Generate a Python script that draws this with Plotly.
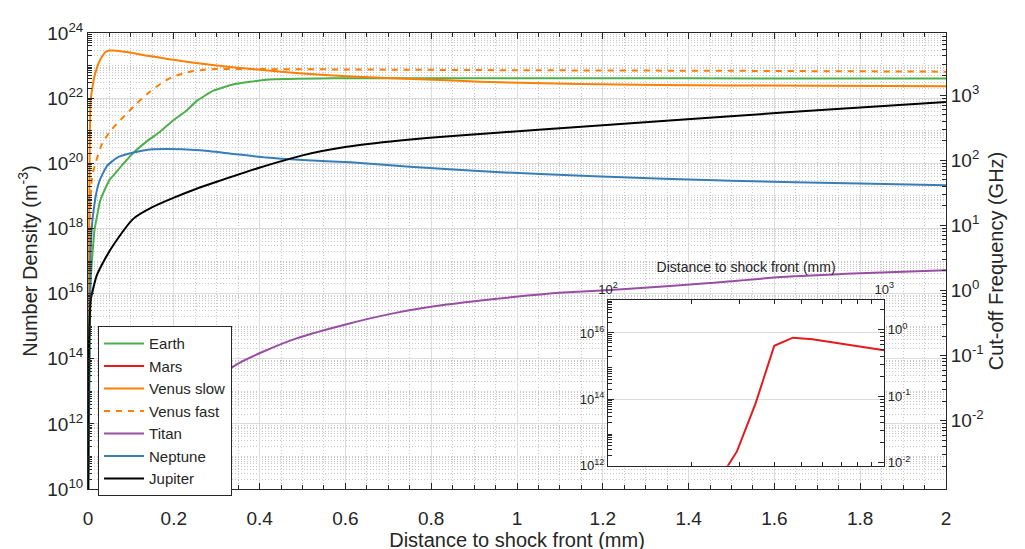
import math
import plotly.graph_objects as go

# ---------------- data (distance in mm, number density in m^-3) ----------------
earth_x = [0, 0.004, 0.006, 0.010, 0.015, 0.022, 0.028, 0.037, 0.051, 0.061, 0.080, 0.106,
           0.137, 0.168, 0.199, 0.230, 0.253, 0.292, 0.342, 0.416, 0.571, 0.8, 1.2, 1.6, 2.0]
earth_n = [1e9, 1e14, 2e16, 1.4e17, 8.7e17, 2.75e18, 6.8e18, 1.35e19, 3.2e19, 4.5e19, 8.9e19, 2.1e20,
           4.7e20, 9.3e20, 2.1e21, 4.2e21, 8.1e21, 1.7e22, 2.7e22, 3.7e22, 4.1e22, 4.1e22, 4.1e22, 4.0e22, 4.0e22]

venus_slow_x = [0, 0.002, 0.004, 0.006, 0.010, 0.014, 0.020, 0.026, 0.034, 0.041, 0.050, 0.060,
                0.090, 0.140, 0.199, 0.300, 0.401, 0.500, 0.603, 0.758, 0.914, 1.147, 1.5, 2.0]
venus_slow_n = [1e9, 1e16, 3.2e20, 8.1e21, 2.0e22, 4.1e22, 7.9e22, 1.29e23, 2.0e23, 2.6e23, 2.9e23, 2.9e23,
                2.6e23, 2.0e23, 1.5e23, 1.0e23, 7.4e22, 5.75e22, 4.7e22, 3.9e22, 3.2e22, 2.7e22, 2.45e22, 2.3e22]

venus_fast_x = [0, 0.002, 0.004, 0.006, 0.010, 0.018, 0.033, 0.051, 0.070, 0.090, 0.115, 0.145,
                0.170, 0.199, 0.225, 0.245, 0.270, 0.300, 0.400, 0.600, 1.0, 1.5, 2.0]
venus_fast_n = [1e12, 1e16, 2.0e18, 8.7e18, 4.3e19, 1.07e20, 4.0e20, 9.3e20, 1.8e21, 3.3e21, 7.1e21, 1.6e22,
                2.8e22, 4.6e22, 5.9e22, 6.8e22, 7.4e22, 7.8e22, 7.8e22, 7.6e22, 7.2e22, 6.9e22, 6.5e22]

titan_x = [0.070, 0.086, 0.102, 0.13, 0.17, 0.22, 0.28, 0.350, 0.409, 0.486, 0.603, 0.720,
           0.836, 0.991, 1.108, 1.263, 1.45, 1.615, 1.8, 2.0]
titan_n = [3.2e9, 1e10, 3.2e10, 1.6e11, 7.9e11, 4.0e12, 1.8e13, 7.1e13, 1.66e14, 4.2e14, 1.15e15, 2.6e15,
           4.6e15, 7.8e15, 1.07e16, 1.4e16, 2.1e16, 3.2e16, 4.2e16, 5.2e16]

neptune_x = [0, 0.003, 0.006, 0.010, 0.014, 0.020, 0.026, 0.035, 0.045, 0.068, 0.090, 0.120, 0.150,
             0.183, 0.220, 0.261, 0.330, 0.416, 0.500, 0.611, 0.750, 0.950, 1.18, 1.5, 1.8, 2.0]
neptune_n = [1e9, 1e14, 1.8e17, 1.6e18, 4.4e18, 1.35e19, 2.7e19, 5.0e19, 8.5e19, 1.5e20, 1.9e20, 2.35e20, 2.7e20,
             2.75e20, 2.7e20, 2.5e20, 2.0e20, 1.5e20, 1.26e20, 1.07e20, 7.8e19, 5.4e19, 4.0e19, 2.9e19, 2.4e19, 2.1e19]

jupiter_x = [0, 0.001, 0.002, 0.006, 0.014, 0.020, 0.037, 0.060, 0.106, 0.150, 0.199, 0.250, 0.300,
             0.401, 0.500, 0.603, 0.727, 0.85, 1.05, 1.364, 1.62, 1.8, 2.0]
jupiter_n = [1e9, 3.2e12, 1.9e14, 5.8e15, 1.8e16, 3.5e16, 1.0e17, 3.2e17, 2.0e18, 4.5e18, 8.7e18, 1.6e19, 2.7e19,
             7.4e19, 1.75e20, 3.2e20, 5.0e20, 6.9e20, 1.07e21, 2.1e21, 3.6e21, 5.2e21, 7.6e21]

# Mars is only visible in the inset (distance 100 - 1000 mm)
mars_x = [255, 272, 293, 341, 400, 467, 549, 1000]
mars_n = [4.3e11, 1.0e12, 2.7e12, 6.9e13, 4.1e15, 7.2e15, 6.5e15, 3.0e15]

# tick values
density_exps = [10, 12, 14, 16, 18, 20, 22, 24]
freq_exps = [-2, -1, 0, 1, 2, 3]
inset_x_exps = [2, 3]
inset_density_exps = [12, 14, 16]
inset_freq_exps = [-2, -1, 0]

colors = {
    "Earth": "#4daf4a", "Mars": "#e41a1c", "Venus": "#ff7f00",
    "Titan": "#984ea3", "Neptune": "#377eb8", "Jupiter": "#000000",
}


# plasma frequency (GHz) corresponding to density n: f = 8.98 * sqrt(n) Hz
def plasma_ghz_log(log_n):
    return math.log10(8.98e-9) + 0.5 * log_n


main_y_range = [10, 24]
inset_y_range = [12, 17]

TXT = "#262626"
FONT = 'Arial, "Liberation Sans", Helvetica, sans-serif'


def sup(e):
    return "10<sup>%d</sup>" % e


def log_minor(lo, hi, skip_even_decades=False):
    vals = []
    for k in range(lo - 1, hi + 1):
        for m in range(1, 10):
            if m == 1 and (not skip_even_decades or k % 2 == 0):
                continue
            vals.append(m * 10.0 ** k)
    return vals


fig = go.Figure()

line_w = 2
smooth = dict(shape="spline", smoothing=0.6)
fig.add_trace(go.Scatter(x=earth_x, y=earth_n, name="Earth", mode="lines",
                         line=dict(color=colors["Earth"], width=line_w, shape="spline", smoothing=0.4)))
fig.add_trace(go.Scatter(x=mars_x, y=mars_n, name="Mars", mode="lines", xaxis="x2", yaxis="y3",
                         line=dict(color=colors["Mars"], width=line_w)))
fig.add_trace(go.Scatter(x=venus_slow_x, y=venus_slow_n, name="Venus slow", mode="lines",
                         line=dict(color=colors["Venus"], width=line_w, **smooth)))
fig.add_trace(go.Scatter(x=venus_fast_x, y=venus_fast_n, name="Venus fast", mode="lines",
                         line=dict(color=colors["Venus"], width=line_w, dash="6px,6px", **smooth)))
fig.add_trace(go.Scatter(x=titan_x, y=titan_n, name="Titan", mode="lines",
                         line=dict(color=colors["Titan"], width=line_w, **smooth)))
fig.add_trace(go.Scatter(x=neptune_x, y=neptune_n, name="Neptune", mode="lines",
                         line=dict(color=colors["Neptune"], width=line_w, **smooth)))
fig.add_trace(go.Scatter(x=jupiter_x, y=jupiter_n, name="Jupiter", mode="lines",
                         line=dict(color=colors["Jupiter"], width=line_w, **smooth)))
# invisible traces so that the secondary (frequency) axes exist
fig.add_trace(go.Scatter(x=[None], y=[None], yaxis="y2", showlegend=False, hoverinfo="skip"))
fig.add_trace(go.Scatter(x=[None], y=[None], xaxis="x2", yaxis="y4", showlegend=False, hoverinfo="skip"))

eps = 1e-4
major_grid = "#dcdcdc"
minor_grid = "#c8c8c8"
minor_dash = "1px,2px"

common_tick = dict(ticks="inside", tickcolor=TXT, showline=True, linecolor=TXT, linewidth=1,
                   zeroline=False)

# the page body has an 8px margin, so the figure is offset by 8px; margins compensate
fig.update_layout(
    width=1025, height=549,
    margin=dict(l=80, r=87, t=15, b=64),
    paper_bgcolor="white", plot_bgcolor="white",
    font=dict(family=FONT, size=19, color=TXT),
    showlegend=True,
    legend=dict(x=0.0117, y=0.357, xanchor="left", yanchor="top", bgcolor="white",
                bordercolor=TXT, borderwidth=1, font=dict(size=15, color=TXT),
                tracegroupgap=0, itemwidth=40),
    xaxis=dict(
        domain=[0, 1], anchor="y", range=[0, 2], tickmode="linear", tick0=0, dtick=0.2,
        ticklen=6, mirror="ticks", showgrid=True, gridcolor=major_grid, gridwidth=1,
        minor=dict(tickmode="linear", tick0=0, dtick=0.05, ticks="inside", ticklen=4, tickcolor=TXT,
                   showgrid=True, gridcolor=minor_grid, griddash=minor_dash, gridwidth=1),
        tickfont=dict(size=19), ticklabelstandoff=12,
        title=dict(text="Distance to shock front (mm)", font=dict(size=20), standoff=2),
        **common_tick,
    ),
    yaxis=dict(
        type="log", domain=[0, 1], anchor="x", range=[main_y_range[0] - eps, main_y_range[1] + eps],
        tickmode="array", tickvals=[10.0 ** e for e in density_exps], ticktext=[sup(e) for e in density_exps],
        ticklen=6, mirror=False, showgrid=True, gridcolor=major_grid, gridwidth=1,
        minor=dict(tickmode="array", tickvals=log_minor(10, 24, skip_even_decades=True),
                   ticks="inside", ticklen=4, tickcolor=TXT,
                   showgrid=True, gridcolor=minor_grid, griddash=minor_dash, gridwidth=1),
        tickfont=dict(size=19),
        title=dict(text="Number Density (m<sup>-3</sup>)", font=dict(size=20), standoff=4),
        **common_tick,
    ),
    yaxis2=dict(
        type="log", overlaying="y", side="right", anchor="x",
        range=[plasma_ghz_log(main_y_range[0]), plasma_ghz_log(main_y_range[1])],
        tickmode="array", tickvals=[10.0 ** e for e in freq_exps], ticktext=[sup(e) for e in freq_exps],
        ticklen=6, showgrid=False,
        minor=dict(tickmode="array", tickvals=log_minor(-3, 4), ticks="inside", ticklen=4,
                   tickcolor=TXT, showgrid=False),
        tickfont=dict(size=19),
        title=dict(text="Cut-off Frequency (GHz)", font=dict(size=20), standoff=6),
        **common_tick,
    ),
    xaxis2=dict(
        type="log", domain=[0.606, 0.928], anchor="y3", side="top",
        range=[inset_x_exps[0] - eps, inset_x_exps[-1] + eps],
        tickmode="array", tickvals=[10.0 ** e for e in inset_x_exps], ticktext=[sup(e) for e in inset_x_exps],
        ticklen=6, mirror="ticks", showgrid=False,
        minor=dict(tickmode="array", tickvals=log_minor(2, 3), ticks="inside", ticklen=4,
                   tickcolor=TXT, showgrid=False),
        tickfont=dict(size=13),
        title=dict(text="Distance to shock front (mm)", font=dict(size=14), standoff=4),
        **common_tick,
    ),
    yaxis3=dict(
        type="log", domain=[0.051, 0.415], anchor="x2",
        range=[inset_y_range[0] - eps, inset_y_range[1] + eps],
        tickmode="array", tickvals=[10.0 ** e for e in inset_density_exps],
        ticktext=[sup(e) for e in inset_density_exps],
        ticklen=6, mirror=False, showgrid=True, gridcolor=major_grid, gridwidth=1,
        minor=dict(tickmode="array", tickvals=log_minor(12, 17), ticks="inside", ticklen=4,
                   tickcolor=TXT, showgrid=False),
        tickfont=dict(size=13),
        **common_tick,
    ),
    yaxis4=dict(
        type="log", overlaying="y3", side="right", anchor="x2",
        range=[plasma_ghz_log(inset_y_range[0]), plasma_ghz_log(inset_y_range[1])],
        tickmode="array", tickvals=[10.0 ** e for e in inset_freq_exps],
        ticktext=[sup(e) for e in inset_freq_exps],
        ticklen=6, showgrid=False,
        minor=dict(tickmode="array", tickvals=log_minor(-2, 1), ticks="inside", ticklen=4,
                   tickcolor=TXT, showgrid=False),
        tickfont=dict(size=13),
        **common_tick,
    ),
)

fig.write_html("out.html")
